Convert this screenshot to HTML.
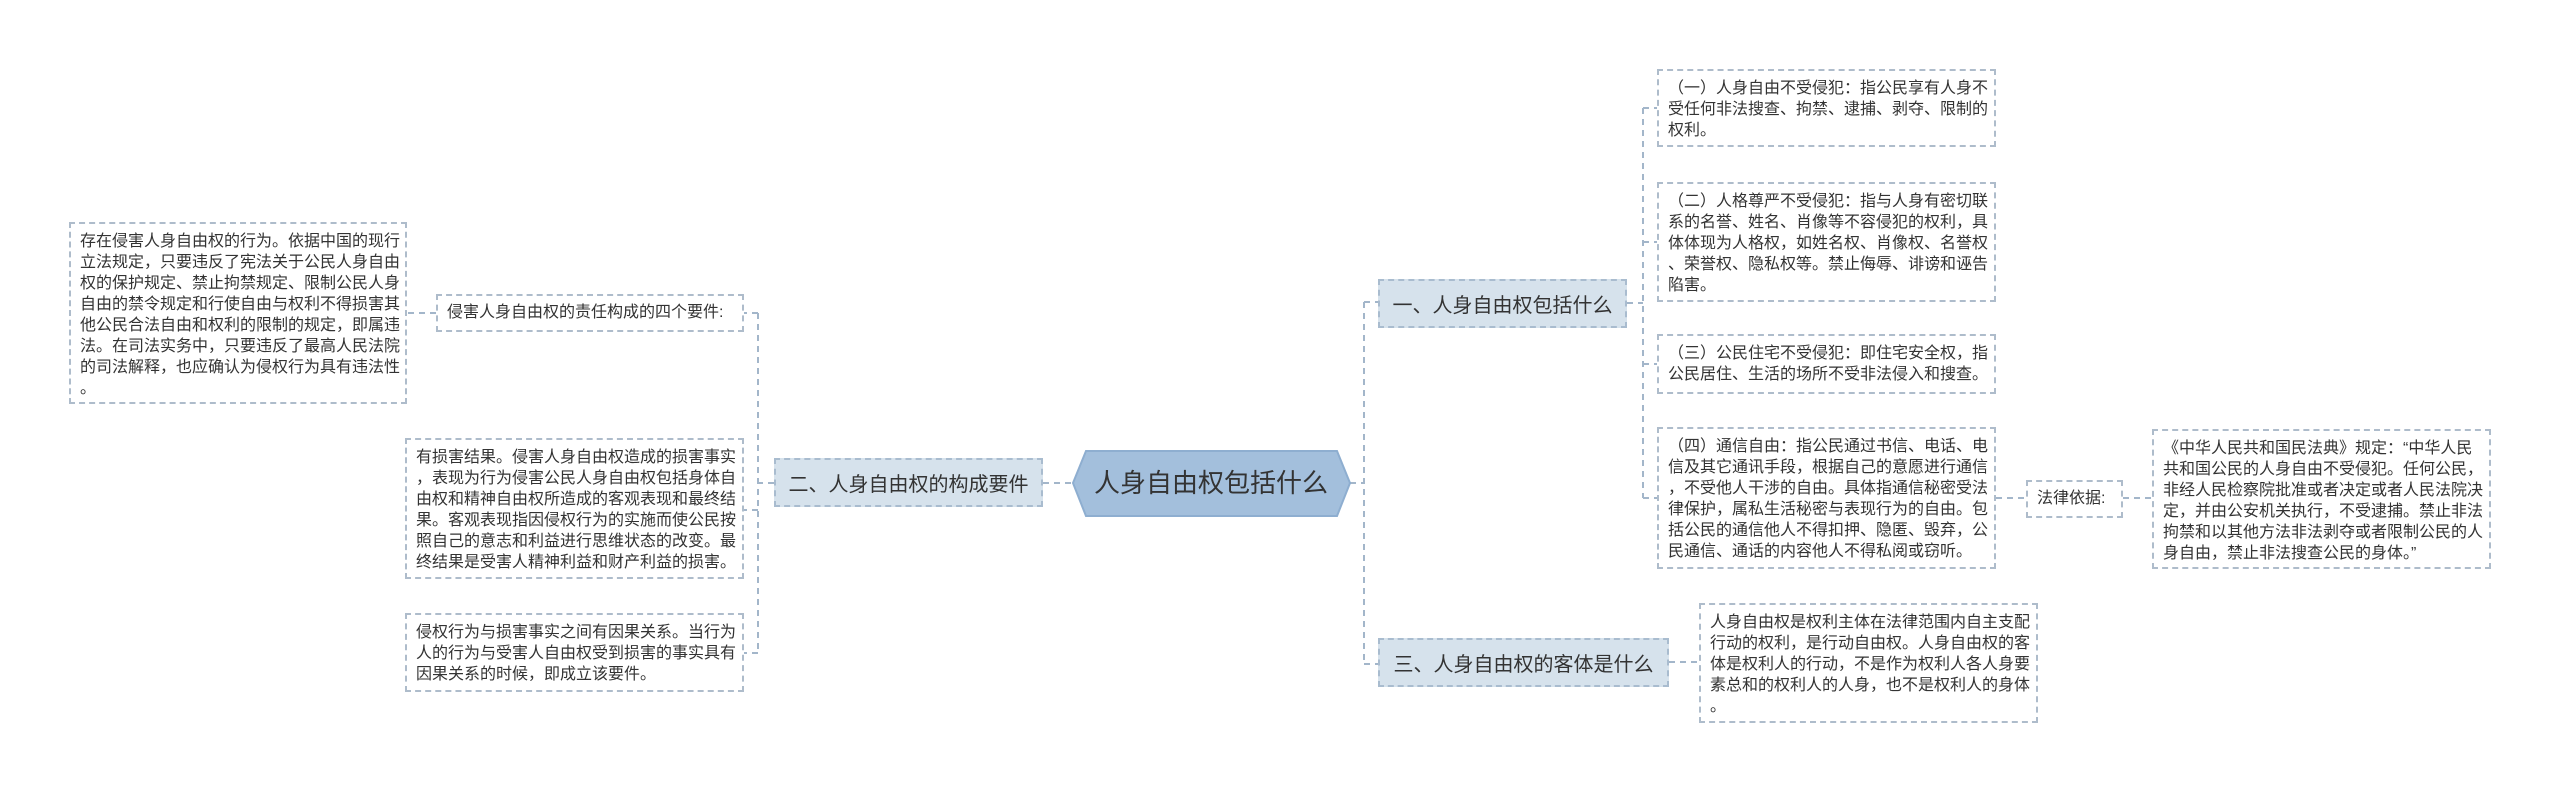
<!DOCTYPE html>
<html><head><meta charset="utf-8"><style>
body{margin:0;width:2560px;height:792px;background:#fff;position:relative;overflow:hidden;font-family:"Liberation Sans","Noto Sans CJK SC",sans-serif;color:#333}
.b{position:absolute;box-sizing:border-box;border:2px dashed #aebccb;background:#fff;font-size:16px;line-height:21px;padding:7px 9px;white-space:pre}
.n{position:absolute;box-sizing:border-box;border:2px dashed #a9bccf;background:#d6e2ec;font-size:20px;display:flex;align-items:center;justify-content:center;white-space:pre}
svg{position:absolute;left:0;top:0}
</style></head><body>
<svg width="2560" height="792">
<g fill="none" stroke="#a3b6ca" stroke-width="2" stroke-dasharray="6,5">
<path d="M1350 483 H1364"/><path d="M1364 302 V664"/><path d="M1364 302 H1378"/><path d="M1364 664 H1378"/>
<path d="M1627 303 H1643"/><path d="M1643 108 V498"/>
<path d="M1643 108 H1657"/><path d="M1643 242 H1657"/><path d="M1643 364 H1657"/><path d="M1643 498 H1657"/>
<path d="M1996 498 H2026"/><path d="M2123 498 H2152"/>
<path d="M1669 662 H1699"/>
<path d="M1043 483 H1073"/><path d="M774 483 H758"/><path d="M758 313 V653"/>
<path d="M758 313 H744"/><path d="M758 510 H744"/><path d="M758 653 H744"/>
<path d="M436 313 H407"/>
</g>
<polygon points="1086,451 1337,451 1350,483 1337,516 1086,516 1073,483" fill="#a3bfdc" stroke="#8eaed0" stroke-width="2"/>
<text x="1211" y="492" text-anchor="middle" font-size="26" fill="#333" font-family="Liberation Sans, Noto Sans CJK SC, sans-serif">人身自由权包括什么</text>
</svg>
<div class="n" style="left:1378px;top:279px;width:249px;height:49px">一、人身自由权包括什么</div>
<div class="n" style="left:1378px;top:638px;width:291px;height:49px">三、人身自由权的客体是什么</div>
<div class="n" style="left:774px;top:458px;width:269px;height:49px">二、人身自由权的构成要件</div>
<div class="b" style="left:436px;top:294px;width:308px;height:38px;padding:6px 9px">侵害人身自由权的责任构成的四个要件:</div>
<div class="b" style="left:69px;top:222px;width:338px;height:182px">存在侵害人身自由权的行为。依据中国的现行
立法规定，只要违反了宪法关于公民人身自由
权的保护规定、禁止拘禁规定、限制公民人身
自由的禁令规定和行使自由与权利不得损害其
他公民合法自由和权利的限制的规定，即属违
法。在司法实务中，只要违反了最高人民法院
的司法解释，也应确认为侵权行为具有违法性
。</div>
<div class="b" style="left:405px;top:438px;width:339px;height:141px">有损害结果。侵害人身自由权造成的损害事实
，表现为行为侵害公民人身自由权包括身体自
由权和精神自由权所造成的客观表现和最终结
果。客观表现指因侵权行为的实施而使公民按
照自己的意志和利益进行思维状态的改变。最
终结果是受害人精神利益和财产利益的损害。</div>
<div class="b" style="left:405px;top:613px;width:339px;height:79px">侵权行为与损害事实之间有因果关系。当行为
人的行为与受害人自由权受到损害的事实具有
因果关系的时候，即成立该要件。</div>
<div class="b" style="left:1657px;top:69px;width:339px;height:78px">（一）人身自由不受侵犯：指公民享有人身不
受任何非法搜查、拘禁、逮捕、剥夺、限制的
权利。</div>
<div class="b" style="left:1657px;top:182px;width:339px;height:120px">（二）人格尊严不受侵犯：指与人身有密切联
系的名誉、姓名、肖像等不容侵犯的权利，具
体体现为人格权，如姓名权、肖像权、名誉权
、荣誉权、隐私权等。禁止侮辱、诽谤和诬告
陷害。</div>
<div class="b" style="left:1657px;top:334px;width:339px;height:60px">（三）公民住宅不受侵犯：即住宅安全权，指
公民居住、生活的场所不受非法侵入和搜查。</div>
<div class="b" style="left:1657px;top:427px;width:339px;height:142px">（四）通信自由：指公民通过书信、电话、电
信及其它通讯手段，根据自己的意愿进行通信
，不受他人干涉的自由。具体指通信秘密受法
律保护，属私生活秘密与表现行为的自由。包
括公民的通信他人不得扣押、隐匿、毁弃，公
民通信、通话的内容他人不得私阅或窃听。</div>
<div class="b" style="left:2026px;top:480px;width:97px;height:38px;padding:6px 9px">法律依据:</div>
<div class="b" style="left:2152px;top:429px;width:339px;height:140px">《中华人民共和国民法典》规定：“中华人民
共和国公民的人身自由不受侵犯。任何公民，
非经人民检察院批准或者决定或者人民法院决
定，并由公安机关执行，不受逮捕。禁止非法
拘禁和以其他方法非法剥夺或者限制公民的人
身自由，禁止非法搜查公民的身体。”</div>
<div class="b" style="left:1699px;top:603px;width:339px;height:120px">人身自由权是权利主体在法律范围内自主支配
行动的权利，是行动自由权。人身自由权的客
体是权利人的行动，不是作为权利人各人身要
素总和的权利人的人身，也不是权利人的身体
。</div>
</body></html>
